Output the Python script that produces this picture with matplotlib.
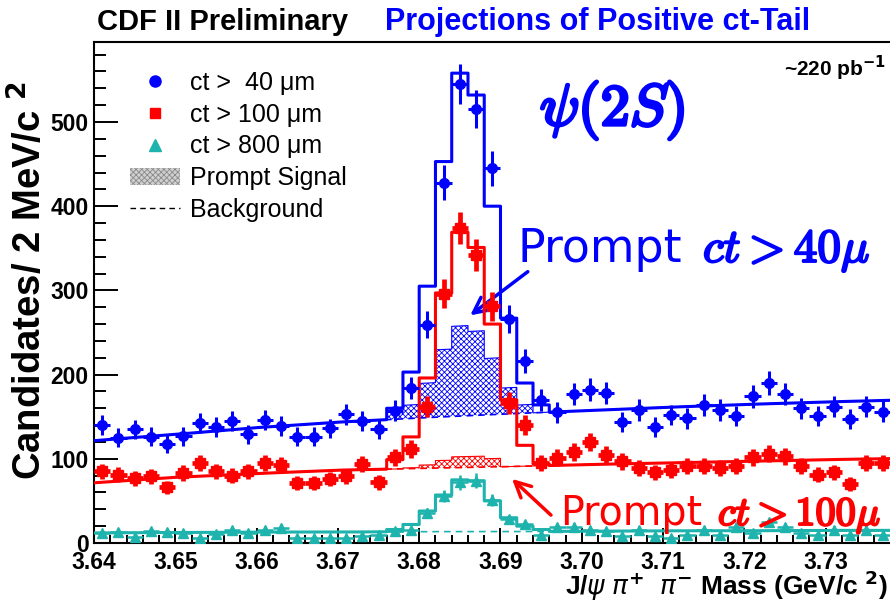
import numpy as np
import matplotlib
matplotlib.use("Agg")
import matplotlib.pyplot as plt
import matplotlib.patheffects as pe
from matplotlib.lines import Line2D
from matplotlib.patches import Patch
from matplotlib.ticker import MultipleLocator, FixedLocator

plt.rcParams['font.family'] = ['Liberation Sans', 'DejaVu Sans']
plt.rcParams['hatch.linewidth'] = 0.6

# === DATA ===
BIN_W = 0.002
mass = np.round(3.641 + BIN_W * np.arange(49), 3)
xtick_vals = [3.64, 3.65, 3.66, 3.67, 3.68, 3.69, 3.70, 3.71, 3.72, 3.73]
xtick_labels = ['3.64', '3.65', '3.66', '3.67', '3.68', '3.69', '3.70', '3.71', '3.72', '3.73']

blue_counts = [140, 125, 135, 126, 118, 127, 143, 138, 145, 129, 146, 139, 126, 126, 136, 153,
               145, 135, 157, 184, 259, 428, 545, 515, 445, 266, 216, 170, 155, 177, 182, 178,
               144, 158, 138, 152, 148, 164, 158, 151, 174, 190, 177, 160, 151, 162, 147, 162, 156]
red_counts = [85, 81, 77, 79, 66, 83, 95, 85, 80, 85, 95, 93, 71, 71, 76, 79,
              94, 72, 102, 112, 162, 296, 374, 342, 281, 166, 140, 95, 101, 108, 120, 105,
              97, 89, 84, 87, 91, 91, 89, 91, 102, 106, 103, 91, 81, 84, 70, 95, 95]
teal_counts = [12, 13, 7, 14, 13, 12, 6, 11, 15, 12, 16, 18, 6, 6, 6, 6,
               8, 10, 14, 15, 36, 56, 72, 74, 51, 28, 22, 10, 19, 19, 16, 14,
               8, 16, 8, 6, 10, 16, 10, 19, 12, 25, 19, 12, 10, 16, 10, 16, 10]

# background shapes
bkg_mass = [3.640, 3.650, 3.660, 3.670, 3.680, 3.690, 3.700, 3.710, 3.720, 3.730, 3.740]
blue_bkg = [121.5, 129, 137, 143.5, 148.5, 153, 157, 161, 164.5, 167.5, 170]
red_bkg = [71.5, 78, 82.5, 86.5, 88.5, 90.5, 93, 95, 97, 99, 100.5]
teal_bkg = [12, 12.5, 13, 13, 13.5, 13.5, 14, 14.5, 14.5, 15, 15]

# fit in the signal region (bins from 3.676 to 3.696)
PEAK_LO = 3.676
blue_fit = [160, 203, 305, 453, 558, 532, 400, 267, 190, 164]
red_fit = [99, 126, 196, 297, 369, 351, 260, 170, 116, 94]
teal_fit = [16, 22, 38, 57, 75, 74, 50, 30, 20, 16]

# prompt signal above background, same bins
blue_prompt = [14, 16, 41, 80, 107, 100, 67, 31, 10, 0]
red_prompt = [0, 1, 4, 9, 13, 13, 10, 0, 0, 0]

BLUE = '#0000ff'
RED = '#ff0000'
TEAL = '#1fb3ad'

W, H = 890, 602


def px(x, y):
    return x / W, 1 - y / H


def bkg_at(x, bkg):
    return np.interp(x, bkg_mass, bkg)


def draw_fit(ax, bkg, fit, color):
    edges = PEAK_LO + BIN_W * np.arange(len(fit) + 1)
    xl = np.linspace(3.64, edges[0], 40)
    xr = np.linspace(edges[-1], 3.74, 80)
    xs = np.repeat(edges, 2)
    ys = np.concatenate([[bkg_at(edges[0], bkg)], np.repeat(fit, 2), [bkg_at(edges[-1], bkg)]])
    x = np.concatenate([xl, xs, xr])
    y = np.concatenate([bkg_at(xl, bkg), ys, bkg_at(xr, bkg)])
    ax.plot(x, y, color=color, lw=2.2, zorder=4)
    xb = np.linspace(3.64, 3.74, 200)
    ax.plot(xb, bkg_at(xb, bkg), color=color, lw=1.2, ls=(0, (4, 3)), zorder=3)


def draw_prompt(ax, bkg, sig, color):
    edges = PEAK_LO + BIN_W * np.arange(len(sig) + 1)
    xs = np.repeat(edges, 2)[1:-1]
    low = bkg_at(xs, bkg)
    top = low + np.repeat(sig, 2)
    ax.fill_between(xs, low, top, facecolor='white', edgecolor=color,
                    hatch='xxxxxx', linewidth=0, zorder=2)
    ax.plot(xs, top, color=color, lw=0.8, zorder=2)


def bold_math(x, y, s, size, color, stroke=1.6):
    # TeX-like math text, thickened with a stroke of the same colour
    fig.text(*px(x, y), s, fontsize=size, math_fontfamily='cm', color=color, va='baseline',
             path_effects=[pe.withStroke(linewidth=stroke, foreground=color)])


fig = plt.figure(figsize=(W / 100, H / 100), dpi=100)
ax = fig.add_axes([94 / W, (H - 543) / H, (907 - 94) / W, (543 - 42) / H])

draw_prompt(ax, blue_bkg, blue_prompt, BLUE)
draw_prompt(ax, red_bkg, red_prompt, RED)
draw_fit(ax, blue_bkg, blue_fit, BLUE)
draw_fit(ax, red_bkg, red_fit, RED)
draw_fit(ax, teal_bkg, teal_fit, TEAL)

for counts, color, mk, ms, ew in [(blue_counts, BLUE, 'o', 7, 2.2),
                                  (red_counts, RED, 's', 7.5, 3.4),
                                  (teal_counts, TEAL, '^', 7.5, 1.8)]:
    c = np.array(counts, dtype=float)
    ax.errorbar(mass, c, yerr=np.sqrt(c), xerr=BIN_W / 2, fmt=mk, color=color,
                ms=ms, mec=color, elinewidth=ew, capsize=0, zorder=5)

ax.set_xlim(3.64, 3.74)
ax.set_ylim(0, 595)
ax.xaxis.set_major_locator(FixedLocator(xtick_vals))
ax.set_xticklabels(xtick_labels)
ax.xaxis.set_minor_locator(MultipleLocator(0.002))
ax.yaxis.set_major_locator(MultipleLocator(100))
ax.yaxis.set_minor_locator(MultipleLocator(20))
ax.tick_params(axis='y', which='major', direction='in', length=17, width=1.4, labelsize=16.5, pad=4)
ax.tick_params(axis='y', which='minor', direction='in', length=8.5, width=1.4)
ax.tick_params(axis='x', which='major', direction='in', length=11, width=1.4, labelsize=16.5, pad=6)
ax.tick_params(axis='x', which='minor', direction='in', length=6, width=1.4)
for lbl in ax.get_xticklabels() + ax.get_yticklabels():
    lbl.set_fontweight('bold')
for s in ['left', 'bottom', 'top']:
    ax.spines[s].set_linewidth(1.5)
ax.spines['right'].set_visible(False)

handles = [Line2D([], [], marker='o', ls='none', color=BLUE, ms=8),
           Line2D([], [], marker='s', ls='none', color=RED, ms=7),
           Line2D([], [], marker='^', ls='none', color=TEAL, ms=8),
           Patch(facecolor='#d0d0d0', edgecolor='#8a8a8a', hatch='xxxxxx', lw=0),
           Line2D([], [], ls=(0, (4, 3)), color='black', lw=1)]
labels = ['ct >  40 μm', 'ct > 100 μm', 'ct > 800 μm', 'Prompt Signal', 'Background']
fig.legend(handles, labels, loc='upper left', bbox_to_anchor=px(130, 71), frameon=False,
           fontsize=18, handlelength=2.0, handletextpad=0.4, labelspacing=0.31, borderpad=0,
           borderaxespad=0)

fig.text(*px(97, 22), 'CDF II Preliminary', fontsize=21, fontweight='bold', va='center')
fig.text(*px(385, 22), 'Projections of Positive ct-Tail', fontsize=22, fontweight='bold',
         color=BLUE, va='center')
fig.text(*px(886, 68), '~220 pb$^{\\mathbf{-1}}$', fontsize=15, fontweight='bold',
         ha='right', va='center')

bold_math(540, 125, r'$\psi(2S)$', 42, BLUE, stroke=2.4)
fig.text(*px(517, 262), 'Prompt', fontsize=33, family='DejaVu Sans', color=BLUE, va='baseline')
bold_math(703, 262, r'$ct>40\mu$', 34, BLUE)
fig.text(*px(560, 525), 'Prompt', fontsize=28.5, family='DejaVu Sans', color=RED, va='baseline')
bold_math(718, 525, r'$ct>100\mu$', 29, RED)

ax.annotate('', xy=px(468, 317), xycoords='figure fraction', xytext=px(530, 270),
            textcoords='figure fraction',
            arrowprops=dict(arrowstyle='->', lw=2.5, color=BLUE, mutation_scale=28))
ax.annotate('', xy=px(510, 477), xycoords='figure fraction', xytext=px(553, 517),
            textcoords='figure fraction',
            arrowprops=dict(arrowstyle='->', lw=2.5, color=RED, mutation_scale=28))

fig.text(*px(30, 280), 'Candidates/ 2 MeV/c $^{\\mathbf{2}}$', rotation=90, fontsize=27.5,
         fontweight='bold', ha='center', va='center')
fig.text(*px(888, 595), 'J/$\\psi$ $\\pi^{\\mathbf{+}}$  $\\pi^{\\mathbf{-}}$ Mass (GeV/c $^{\\mathbf{2}}$)',
         fontsize=19, fontweight='bold', ha='right', va='baseline')

fig.savefig('out.png', dpi=100)
